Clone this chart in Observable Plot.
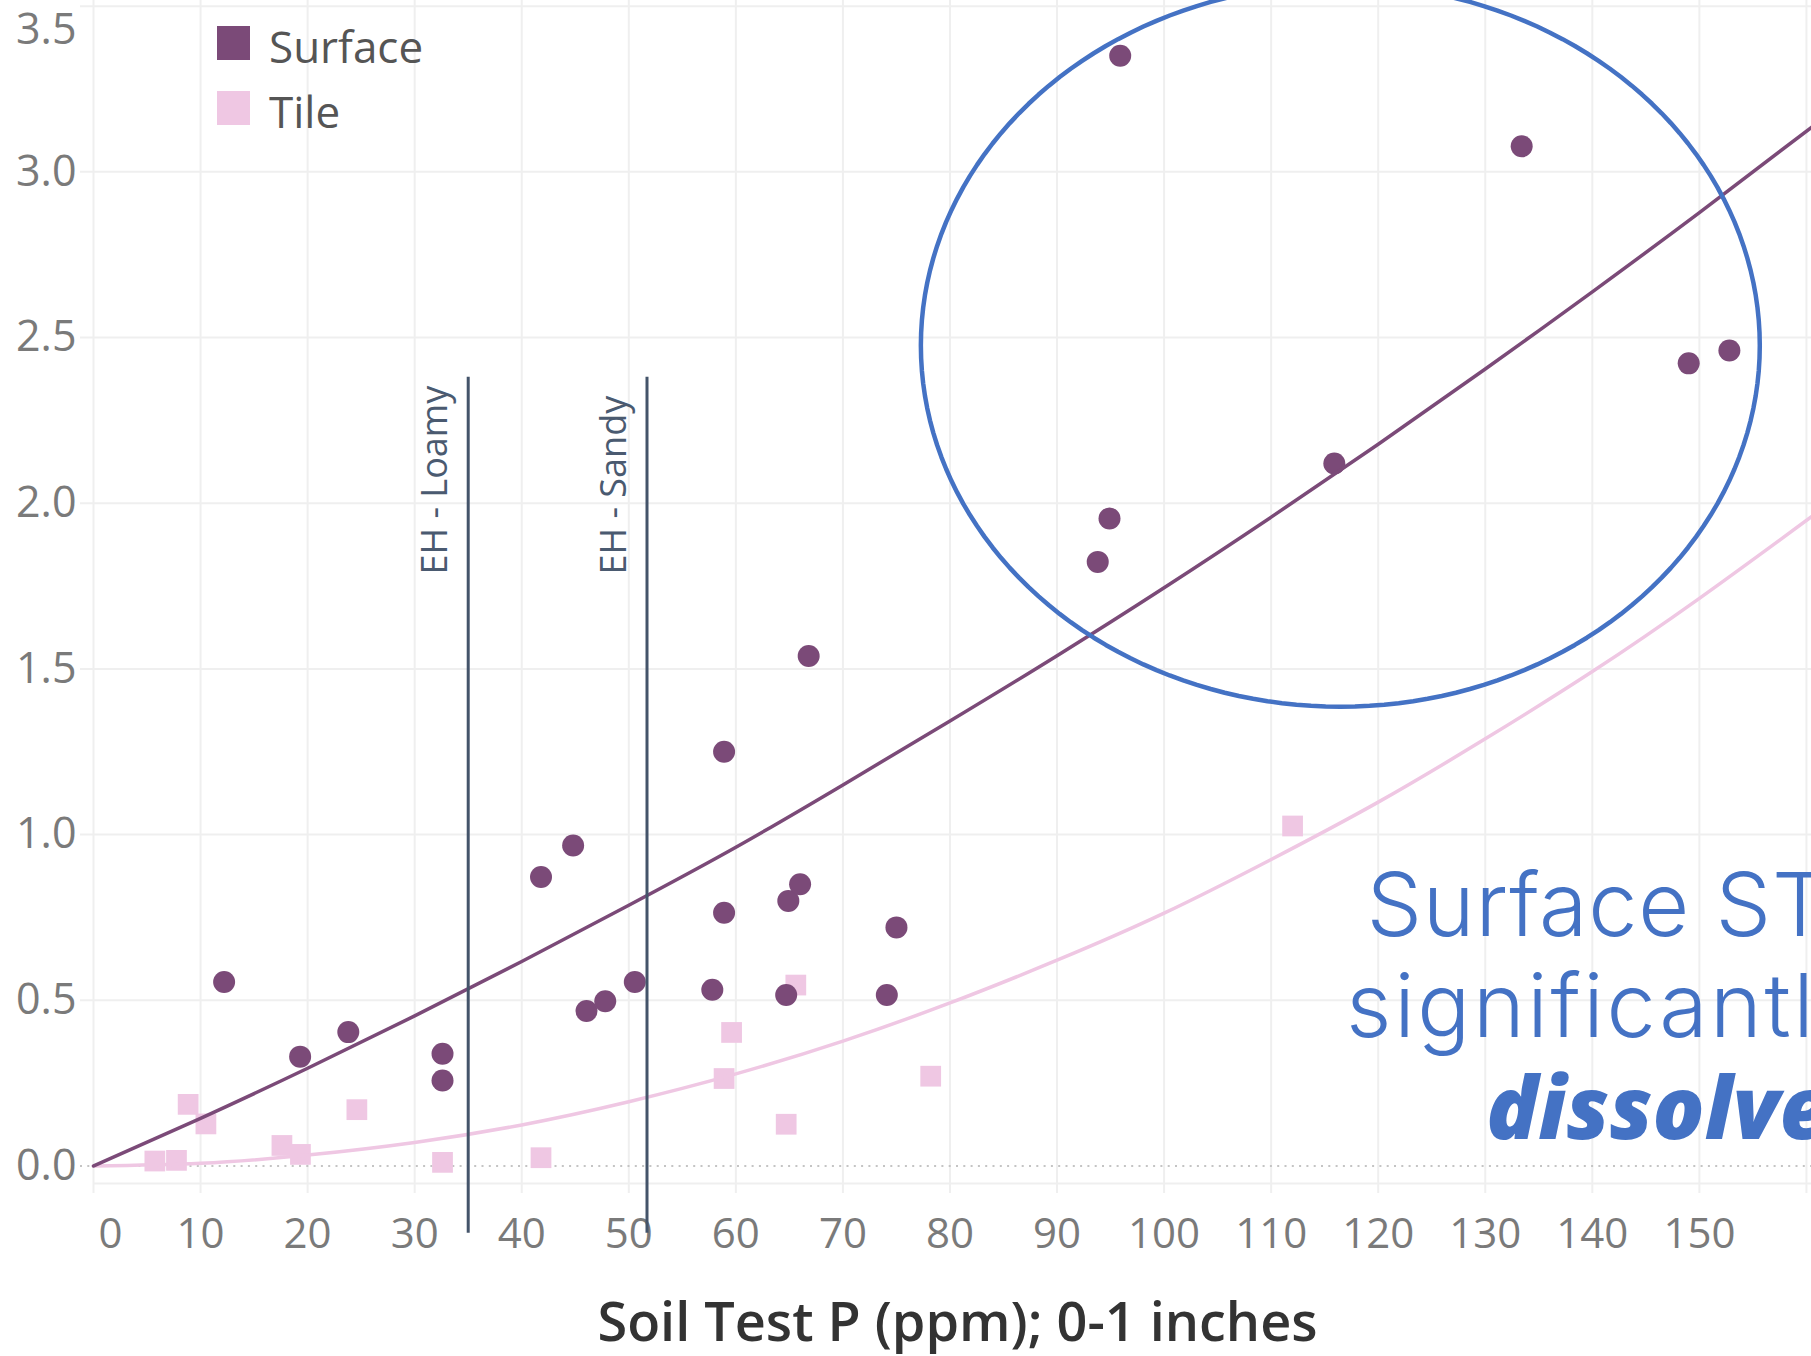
<!DOCTYPE html>
<html>
<head>
<meta charset="utf-8">
<script src="https://cdn.jsdelivr.net/npm/d3@7"></script>
<script src="https://cdn.jsdelivr.net/npm/@observablehq/plot@0.6"></script>
<style>
  html, body { margin: 0; padding: 0; background: #fff; overflow: hidden; }
  #wrap { position: relative; width: 1811px; height: 1356px; overflow: hidden; background: #fff; }
  #wrap svg { display: block; }
  .sw { position: absolute; width: 33px; height: 34px; }
  .lt { position: absolute; font-family: "Open Sans", sans-serif; font-size: 44px; line-height: 44px; color: #555; white-space: nowrap; }
</style>
</head>
<body>
<div id="wrap"></div>
<script>
// ---- data ----
const seriesNames = ["Surface", "Tile"];
const seriesColors = ["#7b4a78", "#efc7e3"];

const surfaceP    = [12.2, 19.3, 23.8, 32.6, 32.6, 41.8, 44.8, 46.05, 47.8, 50.56, 57.8, 58.9, 58.9, 64.7, 64.9, 66.0, 66.8, 74.1, 75.0, 93.8, 94.9, 95.9, 115.9, 133.4, 149.0, 152.8];
const surfaceLoss = [0.555, 0.33, 0.404, 0.339, 0.258, 0.872, 0.967, 0.468, 0.497, 0.555, 0.532, 1.25, 0.764, 0.516, 0.80, 0.85, 1.539, 0.516, 0.72, 1.823, 1.954, 3.35, 2.12, 3.077, 2.422, 2.461];

const tileP    = [5.73, 7.75, 8.84, 10.5, 17.6, 19.33, 24.6, 32.6, 41.8, 58.9, 59.6, 64.7, 65.6, 78.2, 112.0];
const tileLoss = [0.015, 0.017, 0.186, 0.127, 0.062, 0.035, 0.17, 0.011, 0.025, 0.264, 0.403, 0.126, 0.546, 0.271, 1.026];

// trend curves
const fitP           = [0, 10, 20, 30, 40, 50, 60, 70, 80, 90, 100, 110, 120, 130, 140, 150, 160.5];
const surfaceFitLoss = [0, 0.144, 0.295, 0.453, 0.617, 0.787, 0.962, 1.15, 1.343, 1.54, 1.745, 1.958, 2.178, 2.405, 2.638, 2.877, 3.135];
const tileFitLoss    = [0, 0.008, 0.033, 0.071, 0.124, 0.194, 0.278, 0.377, 0.492, 0.621, 0.763, 0.925, 1.098, 1.289, 1.492, 1.713, 1.96];

// axes
const xDomain = [0, 160.47];
const yDomain = [-0.0528, 3.517];
const xGridTicks = [0, 10, 20, 30, 40, 50, 60, 70, 80, 90, 100, 110, 120, 130, 140, 150, 160];
const xTickLabels = [0, 10, 20, 30, 40, 50, 60, 70, 80, 90, 100, 110, 120, 130, 140, 150];
const yTicks = [0, 0.5, 1, 1.5, 2, 2.5, 3, 3.5];
const xTitle = "Soil Test P (ppm); 0-1 inches";

// reference lines
const refLineP = [35, 51.7];
const refLineNames = ["EH - Loamy", "EH - Sandy"];
const refLineSpan = [-0.203, 2.38];
const refLabelLoss = 1.785;

// highlight ellipse (centre and radii in data units)
const highlightCenter = [116.46, 2.476];
const highlightRadii = [39.18, 1.09];

// annotation text (clipped at the right edge in the reference)
const noteLines = ["Surface ST", "significantl"];
const noteP = [118.9, 117.0];
const noteLoss = [0.6955, 0.3887];
const noteTracking = ["0.8px", "2.6px"];
const noteBold = ["dissolve"];
const noteBoldP = [130.1];
const noteBoldLoss = [0.082];

// ---- drawing ----
const gridColor = "#efefef";
const tickColor = "#7a7a7a";
const refColor = "#44546a";
const noteColor = "#4472c4";

const ellipsePts = d3.range(0, 361, 2).map(a => {
  const t = a * Math.PI / 180;
  return [highlightCenter[0] + highlightRadii[0] * Math.cos(t), highlightCenter[1] + highlightRadii[1] * Math.sin(t)];
});

const fmt = d3.format(".1f");

const chart = Plot.plot({
  width: 1811,
  height: 1356,
  marginLeft: 93,
  marginRight: 0,
  marginTop: 0,
  marginBottom: 173,
  x: {domain: xDomain, axis: null, label: null},
  y: {domain: yDomain, axis: null, label: null},
  style: {fontFamily: '"Open Sans", sans-serif', background: "#fff"},
  marks: [
    // grid
    Plot.ruleX(xGridTicks, {x: d => d, stroke: gridColor, strokeWidth: 2, insetBottom: -10}),
    Plot.ruleY(yTicks.filter(v => v !== 0), {y: d => d, stroke: gridColor, strokeWidth: 2, insetLeft: -13}),
    Plot.ruleY([yDomain[0]], {y: d => d, stroke: gridColor, strokeWidth: 2}),
    Plot.ruleY([0], {y: d => d, stroke: "#c4c4c4", strokeWidth: 2, strokeDasharray: "2,5.3", insetLeft: -13}),
    // axes labels
    Plot.axisX(xTickLabels.filter(v => v > 0), {tickSize: 0, tickPadding: 35, fontSize: 42, color: tickColor, label: null}),
    Plot.axisX([0], {tickSize: 0, tickPadding: 35, fontSize: 42, color: tickColor, dx: 17, label: null}),
    Plot.axisY(yTicks.filter(v => v !== 3.5), {anchor: "left", tickSize: 0, tickPadding: 17, fontSize: 43, color: tickColor, tickFormat: fmt, label: null}),
    Plot.axisY([3.5], {anchor: "left", tickSize: 0, tickPadding: 17, fontSize: 43, color: tickColor, tickFormat: fmt, dy: 24, label: null}),
    // points
    Plot.dot(tileP, {x: d => d, y: (d, i) => tileLoss[i], symbol: "square", r: 11.7, fill: seriesColors[1], stroke: "none"}),
    Plot.dot(surfaceP, {x: d => d, y: (d, i) => surfaceLoss[i], r: 11, fill: seriesColors[0], stroke: "none"}),
    // trend lines
    Plot.line(fitP, {x: d => d, y: (d, i) => tileFitLoss[i], stroke: seriesColors[1], strokeWidth: 3.5, curve: "natural"}),
    Plot.line(fitP, {x: d => d, y: (d, i) => surfaceFitLoss[i], stroke: seriesColors[0], strokeWidth: 3.5, curve: "natural"}),
    // reference lines
    Plot.ruleX(refLineP, {x: d => d, y1: refLineSpan[0], y2: refLineSpan[1], stroke: refColor, strokeWidth: 3}),
    Plot.text(refLineP, {x: d => d, y: refLabelLoss, text: (d, i) => refLineNames[i], rotate: -90, textAnchor: "start", lineAnchor: "bottom", dx: -21.5, fontSize: 36, fill: "#4a5a70"}),
    // highlight ellipse
    Plot.line(ellipsePts, {x: d => d[0], y: d => d[1], stroke: noteColor, strokeWidth: 4.5, curve: "linear-closed"}),
    // annotation
    Plot.text(noteLines, {x: (d, i) => noteP[i], y: (d, i) => noteLoss[i], text: d => d, textAnchor: "start", lineAnchor: "bottom", fontSize: 88, fontFamily: "Inter, 'Open Sans', sans-serif", fontWeight: 300, fill: noteColor}),
    Plot.text(noteBold, {x: (d, i) => noteBoldP[i], y: (d, i) => noteBoldLoss[i], text: d => d, textAnchor: "start", lineAnchor: "bottom", fontSize: 86, fontFamily: "'Open Sans', sans-serif", fontWeight: 800, fontStyle: "italic", fill: noteColor}),
    // x title
    Plot.text([xTitle], {frameAnchor: "bottom", text: d => d, dy: 157, dx: 5, lineAnchor: "bottom", fontSize: 54, fontWeight: 600, fill: "#333"})
  ]
});

// wider tracking on the light annotation lines (the original face is a wide geometric sans)
d3.select(chart).selectAll("text")
  .filter(function() { return noteLines.includes(this.textContent); })
  .style("letter-spacing", function() { return noteTracking[noteLines.indexOf(this.textContent)]; });

const wrap = document.getElementById("wrap");
wrap.appendChild(chart);

// legend (inside the plot area, top-left)
const legendTops = [26, 91];
seriesNames.forEach((name, i) => {
  const sw = document.createElement("div");
  sw.className = "sw";
  sw.style.left = "217px";
  sw.style.top = legendTops[i] + "px";
  sw.style.background = seriesColors[i];
  wrap.appendChild(sw);
  const t = document.createElement("div");
  t.className = "lt";
  t.style.left = "269px";
  t.style.top = (legendTops[i] - 2) + "px";
  t.textContent = name;
  wrap.appendChild(t);
});
</script>
</body>
</html>
